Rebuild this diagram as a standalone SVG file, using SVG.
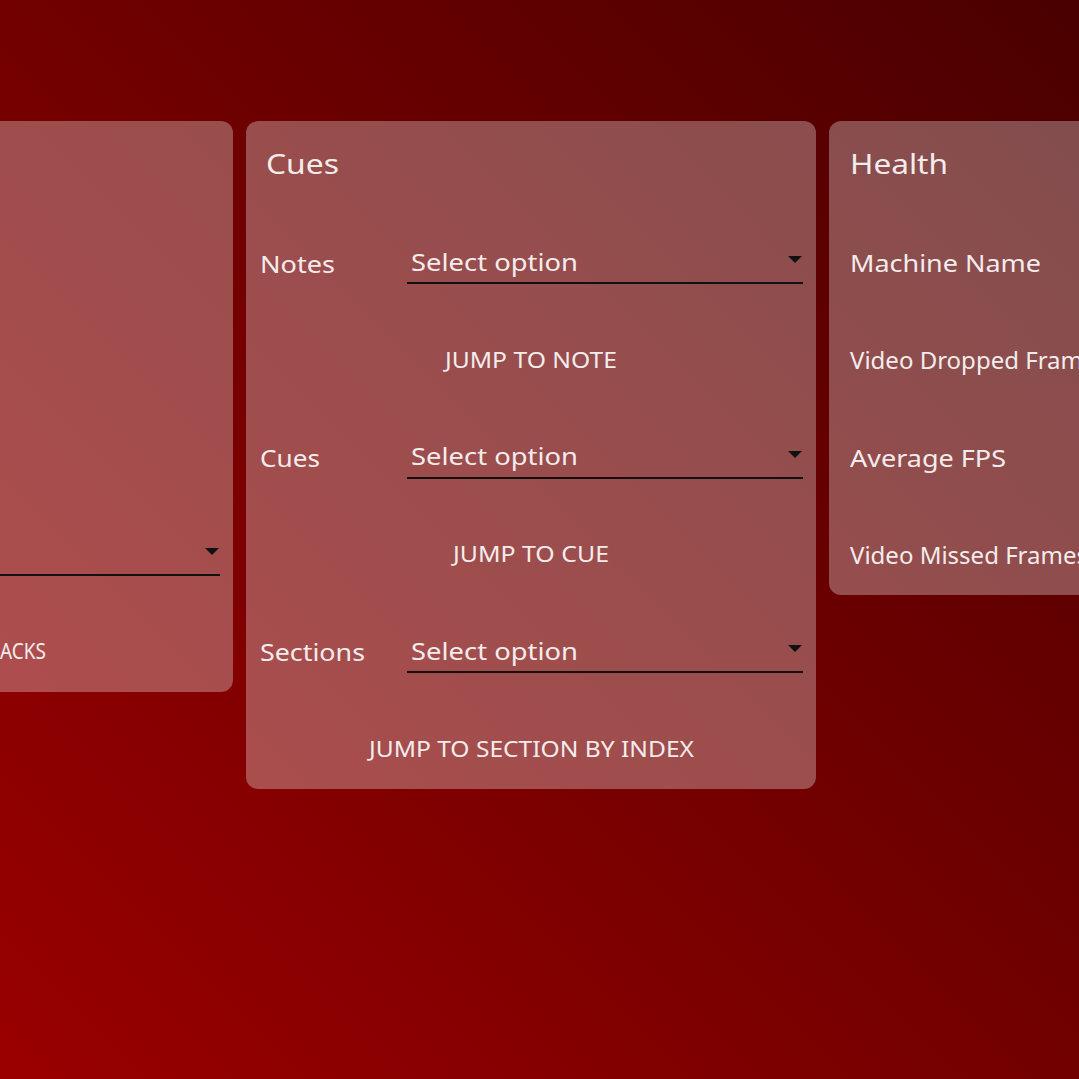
<svg xmlns="http://www.w3.org/2000/svg" width="1079" height="1079" viewBox="0 0 1079 1079">
<defs>
<linearGradient id="bg" x1="1" y1="0" x2="0" y2="1">
<stop offset="0" stop-color="#4a0000"/>
<stop offset="1" stop-color="#9a0000"/>
</linearGradient>
<style>
.panel{fill:#ffffff;fill-opacity:0.3}
text{font-family:"Noto Sans","Open Sans",sans-serif;fill:#f4ecec}
.t{font-size:28px}
.l{font-size:24px}
.b{font-size:21px}
.line{stroke:#111;stroke-width:2}
.arr{fill:#111}
</style>
</defs>
<rect width="1079" height="1079" fill="url(#bg)"/>
<g id="panel-left">
<rect class="panel" x="-20" y="121" width="253" height="571" rx="12"/>
<line class="line" x1="0" y1="575" x2="220" y2="575"/>
<path class="arr" d="M205 548h14l-7 7z"/>
<text class="b" x="0" y="659" textLength="46" lengthAdjust="spacingAndGlyphs">ACKS</text>
</g>
<g id="panel-cues">
<rect class="panel" x="246" y="121" width="570" height="668" rx="12"/>
<text class="t" x="266" y="174" textLength="73" lengthAdjust="spacingAndGlyphs">Cues</text>
<text class="l" x="260" y="273" textLength="75" lengthAdjust="spacingAndGlyphs">Notes</text>
<text class="l" x="411" y="271" textLength="167" lengthAdjust="spacingAndGlyphs">Select option</text>
<line class="line" x1="407" y1="283" x2="803" y2="283"/>
<path class="arr" d="M788 256h14l-7 7z"/>
<text class="b" x="445" y="368" textLength="172" lengthAdjust="spacingAndGlyphs">JUMP TO NOTE</text>
<text class="l" x="260" y="467" textLength="60" lengthAdjust="spacingAndGlyphs">Cues</text>
<text class="l" x="411" y="465" textLength="167" lengthAdjust="spacingAndGlyphs">Select option</text>
<line class="line" x1="407" y1="478" x2="803" y2="478"/>
<path class="arr" d="M788 451h14l-7 7z"/>
<text class="b" x="453" y="562" textLength="156" lengthAdjust="spacingAndGlyphs">JUMP TO CUE</text>
<text class="l" x="260" y="661" textLength="105" lengthAdjust="spacingAndGlyphs">Sections</text>
<text class="l" x="411" y="660" textLength="167" lengthAdjust="spacingAndGlyphs">Select option</text>
<line class="line" x1="407" y1="672" x2="803" y2="672"/>
<path class="arr" d="M788 645h14l-7 7z"/>
<text class="b" x="369" y="757" textLength="325" lengthAdjust="spacingAndGlyphs">JUMP TO SECTION BY INDEX</text>
</g>
<g id="panel-health">
<rect class="panel" x="829" y="121" width="270" height="474" rx="12"/>
<text class="t" x="850" y="174" textLength="98" lengthAdjust="spacingAndGlyphs">Health</text>
<text class="l" x="850" y="272" textLength="191" lengthAdjust="spacingAndGlyphs">Machine Name</text>
<text class="l" x="850" y="369">Video Dropped Frames</text>
<text class="l" x="850" y="467" textLength="156" lengthAdjust="spacingAndGlyphs">Average FPS</text>
<text class="l" x="850" y="564">Video Missed Frames</text>
</g>
</svg>
